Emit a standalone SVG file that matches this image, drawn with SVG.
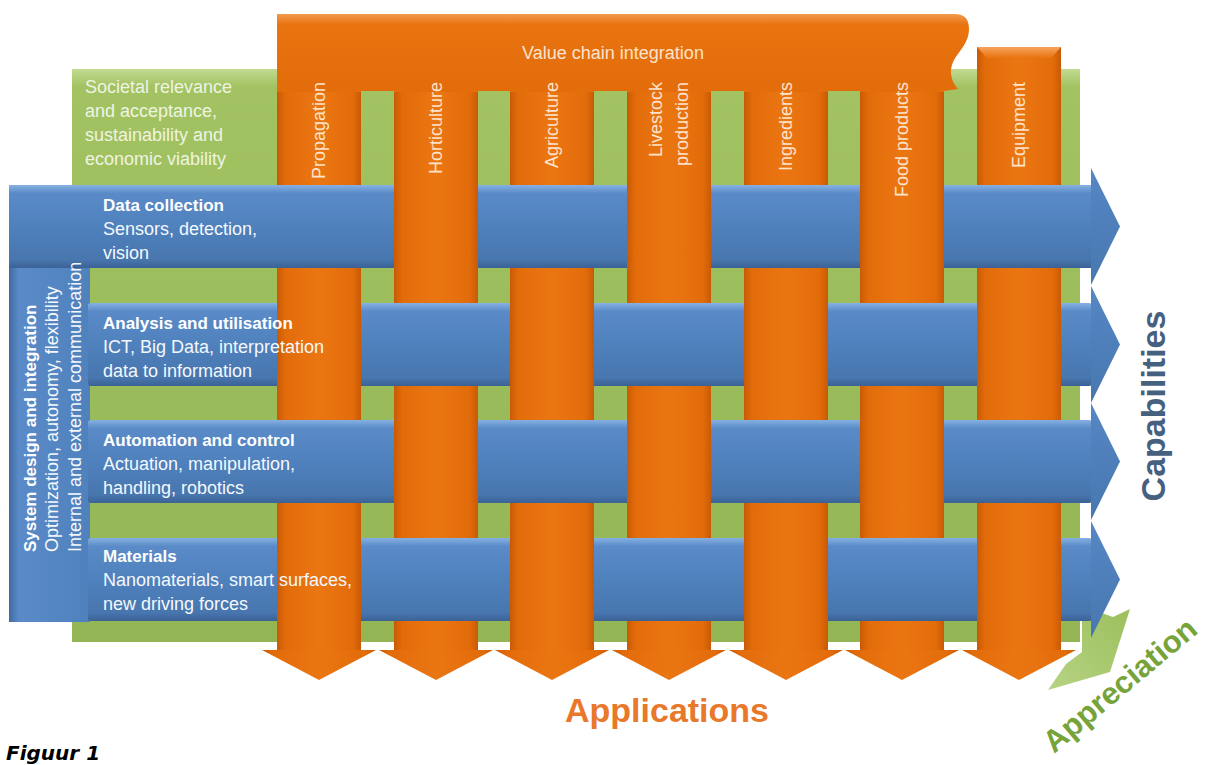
<svg xmlns="http://www.w3.org/2000/svg" width="1209" height="765" viewBox="0 0 1209 765">
<defs>
<linearGradient id="colG" x1="0" y1="0" x2="1" y2="0">
<stop offset="0" stop-color="#c85a05"/><stop offset="0.1" stop-color="#e36c0a"/><stop offset="0.5" stop-color="#ea7612"/><stop offset="0.9" stop-color="#e36c0a"/><stop offset="1" stop-color="#c85a05"/>
</linearGradient>
<linearGradient id="hdrG" x1="0" y1="0" x2="0" y2="1">
<stop offset="0" stop-color="#f39a4e"/><stop offset="0.14" stop-color="#e8730f"/><stop offset="1" stop-color="#e36c0a"/>
</linearGradient>
<linearGradient id="bandG" x1="0" y1="0" x2="0" y2="1">
<stop offset="0" stop-color="#86b0e2"/><stop offset="0.1" stop-color="#5a8bc8"/><stop offset="0.5" stop-color="#4f81bd"/><stop offset="0.9" stop-color="#4876ae"/><stop offset="1" stop-color="#3b6295"/>
</linearGradient>
<linearGradient id="headG" x1="0" y1="0" x2="0" y2="1">
<stop offset="0" stop-color="#5687c4"/><stop offset="1" stop-color="#4877b0"/>
</linearGradient>
<linearGradient id="sysG" x1="0" y1="0" x2="1" y2="0">
<stop offset="0" stop-color="#3d6aa2"/><stop offset="0.12" stop-color="#5a8bc8"/><stop offset="1" stop-color="#4f81bd"/>
</linearGradient>
<linearGradient id="greenG" x1="0" y1="0" x2="0" y2="1">
<stop offset="0" stop-color="#c2da91"/><stop offset="0.03" stop-color="#a3c363"/><stop offset="1" stop-color="#93b553"/>
</linearGradient>
<linearGradient id="appG" x1="1" y1="0" x2="0" y2="1">
<stop offset="0" stop-color="#9bbf5c"/><stop offset="1" stop-color="#b7d384"/>
</linearGradient>
<linearGradient id="eqTop" x1="0" y1="0" x2="0" y2="1">
<stop offset="0" stop-color="#f7a35c"/><stop offset="1" stop-color="#e8730f"/>
</linearGradient>
</defs>
<style>
.t{font-family:"Liberation Sans",Arial,sans-serif;}
.lab{font-size:18px;fill:#fde3cb;}
.bt{font-size:18px;fill:#f4f8fc;}
.btb{font-size:17px;font-weight:bold;fill:#ffffff;}
.gt{font-size:18px;fill:#eef4e2;}
.col{fill:url(#colG);}
.band{fill:url(#bandG);}
.bhead{fill:url(#headG);}
</style>
<rect width="1209" height="765" fill="#ffffff"/>

<g id="societal">
<rect x="72" y="69" width="1008" height="573" fill="url(#greenG)"/>
<text class="t gt" x="85" y="93">Societal relevance</text>
<text class="t gt" x="85" y="117">and acceptance,</text>
<text class="t gt" x="85" y="141">sustainability and</text>
<text class="t gt" x="85" y="165">economic viability</text>
</g>

<g id="connectors">
<polygon points="1082,606 1113,617 1130,609 1110,672 1048,690 1066,664 1082,652" fill="url(#appG)"/>
</g>

<g id="columns">
<rect class="col" x="277" y="86" width="84" height="565"/>
<rect class="col" x="394" y="86" width="84" height="565"/>
<rect class="col" x="510" y="86" width="84" height="565"/>
<rect class="col" x="627" y="86" width="84" height="565"/>
<rect class="col" x="744" y="86" width="84" height="565"/>
<rect class="col" x="860" y="86" width="84" height="565"/>
<rect class="col" x="977" y="47" width="84" height="604"/>
<polygon points="977,47 1061,47 1051,58 987,58" fill="url(#eqTop)"/>
<polygon class="col" points="262,650 376,650 319,680"/>
<polygon class="col" points="379,650 493,650 436,680"/>
<polygon class="col" points="495,650 609,650 552,680"/>
<polygon class="col" points="612,650 726,650 669,680"/>
<polygon class="col" points="729,650 843,650 786,680"/>
<polygon class="col" points="845,650 959,650 902,680"/>
<polygon class="col" points="962,650 1076,650 1019,680"/>
</g>

<g id="value-chain">
<path d="M277,14 H955 Q969,14 969,29 C969,42 960,50 954,60 C949,70 950,80 958,89 L944,91 H277 Z" fill="url(#hdrG)"/>
<rect x="277" y="80" width="84" height="12" fill="#e46d0b"/>
<rect x="394" y="80" width="84" height="12" fill="#e46d0b"/>
<rect x="510" y="80" width="84" height="12" fill="#e46d0b"/>
<rect x="627" y="80" width="84" height="12" fill="#e46d0b"/>
<rect x="744" y="80" width="84" height="12" fill="#e46d0b"/>
<rect x="860" y="80" width="84" height="12" fill="#e46d0b"/>
<text class="t lab" x="613" y="59" text-anchor="middle">Value chain integration</text>
</g>

<g id="system-design">
<rect x="9" y="185" width="81" height="437" fill="url(#sysG)"/>
<polygon points="9,185 90,185 90,195 19,195" fill="#7aa6dc" opacity="0.6"/>
</g>

<g id="bands">
<rect class="band" x="9" y="185" width="1083" height="83"/>
<polygon class="bhead" points="1091,168 1120,226.5 1091,285"/>
<rect class="band" x="88" y="303" width="1004" height="83" rx="3"/>
<polygon class="bhead" points="1091,286 1120,344.5 1091,403"/>
<rect class="band" x="88" y="420" width="1004" height="83" rx="3"/>
<polygon class="bhead" points="1091,403 1120,461.5 1091,520"/>
<rect class="band" x="88" y="538" width="1004" height="83" rx="3"/>
<polygon class="bhead" points="1091,521 1120,579.5 1091,638"/>
</g>

<g id="weave-over">
<rect class="col" x="394" y="185" width="84" height="83"/>
<rect class="col" x="627" y="185" width="84" height="83"/>
<rect class="col" x="860" y="185" width="84" height="83"/>
<rect class="col" x="277" y="303" width="84" height="83"/>
<rect class="col" x="510" y="303" width="84" height="83"/>
<rect class="col" x="744" y="303" width="84" height="83"/>
<rect class="col" x="977" y="303" width="84" height="83"/>
<rect class="col" x="394" y="420" width="84" height="83"/>
<rect class="col" x="627" y="420" width="84" height="83"/>
<rect class="col" x="860" y="420" width="84" height="83"/>
<rect class="col" x="277" y="538" width="84" height="83"/>
<rect class="col" x="510" y="538" width="84" height="83"/>
<rect class="col" x="744" y="538" width="84" height="83"/>
<rect class="col" x="977" y="538" width="84" height="83"/>
</g>

<g id="column-labels">
<text class="t lab" transform="translate(325,82) rotate(-90)" text-anchor="end">Propagation</text>
<text class="t lab" transform="translate(442,82) rotate(-90)" text-anchor="end">Horticulture</text>
<text class="t lab" transform="translate(558,82) rotate(-90)" text-anchor="end">Agriculture</text>
<text class="t lab" transform="translate(662,82) rotate(-90)" text-anchor="end">Livestock</text>
<text class="t lab" transform="translate(688,82) rotate(-90)" text-anchor="end">production</text>
<text class="t lab" transform="translate(792,82) rotate(-90)" text-anchor="end">Ingredients</text>
<text class="t lab" transform="translate(908,82) rotate(-90)" text-anchor="end">Food products</text>
<text class="t lab" transform="translate(1025,82) rotate(-90)" text-anchor="end">Equipment</text>
</g>

<g id="band-data-collection">
<text class="t btb" x="103" y="211">Data collection</text>
<text class="t bt" x="103" y="235">Sensors, detection,</text>
<text class="t bt" x="103" y="259">vision</text>
</g>
<g id="band-analysis">
<text class="t btb" x="103" y="329">Analysis and utilisation</text>
<text class="t bt" x="103" y="353">ICT, Big Data, interpretation</text>
<text class="t bt" x="103" y="377">data to information</text>
</g>
<g id="band-automation">
<text class="t btb" x="103" y="446">Automation and control</text>
<text class="t bt" x="103" y="470">Actuation, manipulation,</text>
<text class="t bt" x="103" y="494">handling, robotics</text>
</g>
<g id="band-materials">
<text class="t btb" x="103" y="562">Materials</text>
<text class="t bt" x="103" y="586">Nanomaterials, smart surfaces,</text>
<text class="t bt" x="103" y="610">new driving forces</text>
</g>

<g id="system-design-text">
<text class="t btb" transform="translate(36,552) rotate(-90)">System design and integration</text>
<text class="t bt" transform="translate(58,552) rotate(-90)">Optimization, autonomy, flexibility</text>
<text class="t bt" transform="translate(81,552) rotate(-90)">Internal and external communication</text>
</g>

<g id="axis-labels">
<text class="t" transform="translate(1165,406) rotate(-90)" text-anchor="middle" font-size="34" font-weight="bold" fill="#46607f">Capabilities</text>
<text class="t" x="667" y="722" text-anchor="middle" font-size="34" font-weight="bold" fill="#e8782a">Applications</text>
<text class="t" transform="translate(1054,754) rotate(-40)" font-size="31" font-weight="bold" fill="#76a33a">Appreciation</text>
</g>

<text x="6" y="760" font-family="'DejaVu Sans',Verdana,sans-serif" font-size="20" font-weight="bold" font-style="italic" fill="#000000">Figuur 1</text>
</svg>
